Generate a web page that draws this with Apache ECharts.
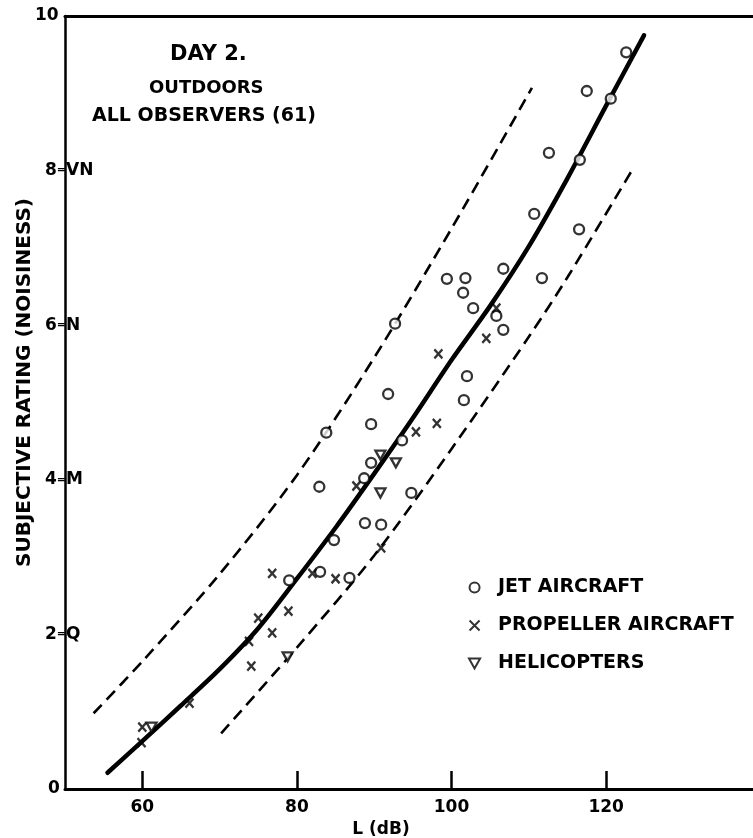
<!DOCTYPE html>
<html>
<head>
<meta charset="utf-8">
<script src="https://cdn.jsdelivr.net/npm/echarts@6/dist/echarts.min.js"></script>
<style>
  html, body { margin: 0; padding: 0; background: #fff; }
  #chart { width: 753px; height: 838px; }
</style>
</head>
<body>
<div id="chart"></div>
<script>
// Sound level L (dB) against mean subjective noisiness rating, day 2, outdoors
const jetL = [122.6, 117.5, 120.6, 112.6, 116.6, 110.7, 116.5, 99.4, 101.8, 101.5, 102.8, 106.7, 111.7, 105.8, 106.7, 92.7,
              102.0, 101.6, 91.8, 83.8, 89.6, 93.6, 89.6, 88.7, 82.9, 94.8, 88.8, 90.9, 84.8, 79.0, 83.0, 86.8];
const jetR = [9.53, 9.03, 8.93, 8.23, 8.14, 7.44, 7.24, 6.60, 6.61, 6.42, 6.22, 6.73, 6.61, 6.12, 5.94, 6.02,
              5.34, 5.03, 5.11, 4.61, 4.72, 4.51, 4.22, 4.02, 3.91, 3.83, 3.44, 3.42, 3.22, 2.70, 2.81, 2.73];

const propL = [87.7, 76.8, 82.0, 85.0, 90.9, 78.9, 75.0, 76.8, 73.8, 74.1, 66.1, 60.0, 59.9, 95.4, 98.1, 98.3, 104.5, 105.8];
const propR = [3.92, 2.79, 2.79, 2.72, 3.12, 2.30, 2.21, 2.02, 1.91, 1.59, 1.11, 0.80, 0.60, 4.62, 4.73, 5.63, 5.83, 6.22];

const heliL = [90.8, 92.8, 90.8, 78.8, 61.2];
const heliR = [4.32, 4.22, 3.83, 1.71, 0.80];

// Fitted mean curve and the two dashed bounds
const fitL = [55.5, 60, 65, 70, 75, 80, 85, 90, 95, 100, 105, 110, 115, 120, 124.9];
const fitR = [0.21, 0.62, 1.08, 1.55, 2.08, 2.72, 3.38, 4.08, 4.80, 5.55, 6.25, 7.02, 7.90, 8.84, 9.75];

const upperL = [53.7, 60, 70, 80, 90, 100, 110.4];
const upperR = [0.98, 1.65, 2.78, 4.06, 5.58, 7.25, 9.07];

const lowerL = [70.2, 80, 90, 100, 110, 115, 123.2];
const lowerR = [0.72, 1.83, 3.02, 4.40, 5.85, 6.62, 7.98];

const xTicks = [60, 80, 100, 120];
const ratingWords = { 2: 'Q', 4: 'M', 6: 'N', 8: 'VN' };

const seriesNames = ['JET AIRCRAFT', 'PROPELLER AIRCRAFT', 'HELICOPTERS'];
const titleLines = ['DAY 2.', 'OUTDOORS', 'ALL OBSERVERS (61)'];

const FONT = 'DejaVu Sans';
const INK = '#000';

const zip = (xs, ys) => xs.map((x, i) => [x, ys[i]]);

// Rating labels: number, an equals sign straddling the axis, then the verbal grade
function ratingLabel(v) {
  if (ratingWords[v]) return `{num|${v}}{eq|=}{word|${ratingWords[v]}}`;
  return v === 0 ? `{zero|${v}}` : `{top|${v}}`;
}

const labelText = { fontFamily: FONT, fontSize: 17, fontWeight: 'bold', color: INK };

const chart = echarts.init(document.getElementById('chart'), null, { renderer: 'canvas' });

chart.setOption({
  backgroundColor: '#fff',
  animation: false,
  textStyle: { fontFamily: FONT, color: INK },
  title: [
    { text: titleLines[0], left: 170, top: 44, padding: 0,
      textStyle: { fontFamily: FONT, fontSize: 21, fontWeight: 'bold', color: INK } },
    { text: titleLines[1], left: 149, top: 79, padding: 0,
      textStyle: { fontFamily: FONT, fontSize: 18, fontWeight: 'bold', color: INK } },
    { text: titleLines[2], left: 92, top: 107, padding: 0,
      textStyle: { fontFamily: FONT, fontSize: 19, fontWeight: 'bold', color: INK } }
  ],
  legend: {
    data: seriesNames,
    orient: 'vertical',
    left: 468,
    top: 578,
    padding: 0,
    itemWidth: 25,
    itemHeight: 10,
    itemGap: 19,
    textStyle: { fontFamily: FONT, fontSize: 19, fontWeight: 'bold', color: INK, padding: [0, 0, 0, 6] }
  },
  grid: { left: 65, right: 0, top: 16, bottom: 49, containLabel: false, outerBoundsMode: 'none' },
  xAxis: [
    {
      type: 'value', min: 50, max: 139,
      name: 'L (dB)', nameLocation: 'middle', nameGap: 28,
      nameTextStyle: { fontFamily: FONT, fontSize: 17, fontWeight: 'bold', color: INK, padding: [0, 56, 0, 0] },
      axisLine: { show: true, lineStyle: { color: INK, width: 3 } },
      axisTick: { show: true, inside: true, length: 18, lineStyle: { color: INK, width: 2.5 }, customValues: xTicks },
      axisLabel: { show: true, margin: 10, ...labelText, customValues: xTicks },
      splitLine: { show: false }
    },
    {
      type: 'value', min: 50, max: 139, position: 'top',
      axisLine: { show: true, lineStyle: { color: INK, width: 3 } },
      axisTick: { show: false }, axisLabel: { show: false }, splitLine: { show: false }
    }
  ],
  yAxis: {
    type: 'value', min: 0, max: 10, interval: 2,
    name: 'SUBJECTIVE RATING (NOISINESS)', nameLocation: 'middle', nameGap: 30, nameMoveOverlap: false,
    nameTextStyle: { fontFamily: FONT, fontSize: 20, fontWeight: 'bold', color: INK, padding: [0, 0, 0, 40] },
    axisLine: { show: true, lineStyle: { color: INK, width: 2.5 } },
    axisTick: { show: false },
    splitLine: { show: false },
    axisLabel: {
      show: true, align: 'left', margin: 30,
      ...labelText,
      formatter: ratingLabel,
      rich: {
        top: { ...labelText },
        zero: { ...labelText, padding: [0, 0, 0, 13] },
        num: { ...labelText, padding: [0, 0, 0, 10] },
        eq: { ...labelText, fontSize: 11 },
        word: { ...labelText }
      }
    }
  },
  series: [
    {
      name: 'fit', type: 'line', data: zip(fitL, fitR), smooth: 0.3,
      showSymbol: false, silent: true, z: 2,
      lineStyle: { color: INK, width: 4.5, cap: 'round' }
    },
    {
      name: 'upper', type: 'line', data: zip(upperL, upperR), smooth: 0.3,
      showSymbol: false, silent: true, z: 2,
      lineStyle: { color: INK, width: 2.6, type: [12, 7] }
    },
    {
      name: 'lower', type: 'line', data: zip(lowerL, lowerR), smooth: 0.3,
      showSymbol: false, silent: true, z: 2,
      lineStyle: { color: INK, width: 2.6, type: [12, 7] }
    },
    {
      name: seriesNames[0], type: 'scatter', data: zip(jetL, jetR), z: 5,
      symbol: 'circle', symbolSize: 10,
      itemStyle: { color: '#fff', borderColor: INK, borderWidth: 2.3 }
    },
    {
      name: seriesNames[1], type: 'scatter', data: zip(propL, propR), z: 5,
      symbol: 'path://M0,0L10,10M10,0L0,10', symbolSize: [8, 9],
      itemStyle: { color: 'rgba(0,0,0,0)', borderColor: INK, borderWidth: 2.4 }
    },
    {
      name: seriesNames[2], type: 'scatter', data: zip(heliL, heliR), z: 5,
      symbol: 'path://M0,0L10,0L5,9Z', symbolSize: [10, 9],
      itemStyle: { color: '#fff', borderColor: INK, borderWidth: 2.3 }
    }
  ]
});
</script>
</body>
</html>
